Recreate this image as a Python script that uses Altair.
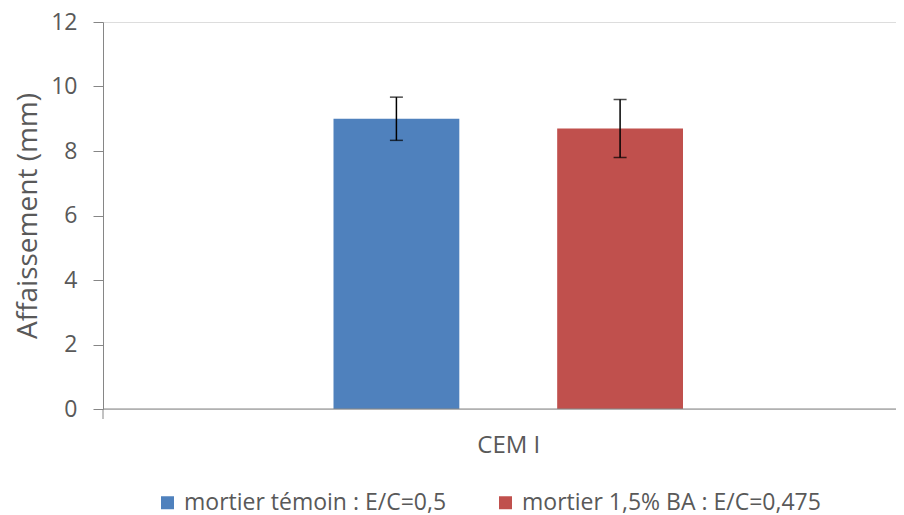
import altair as alt
import pandas as pd

category = "CEM I"
series = ["mortier témoin : E/C=0,5", "mortier 1,5% BA : E/C=0,475"]
values = [9.0, 8.7]
errors = [0.67, 0.9]
colors = ["#4F81BD", "#C0504D"]
y_ticks = [0, 2, 4, 6, 8, 10, 12]

df = pd.DataFrame({"series": series, "value": values, "err": errors})
df["low"] = df["value"] - df["err"]
df["high"] = df["value"] + df["err"]

W, H = 793, 387
FONT = "Open Sans"
GREY = "#595959"
AXIS = "#868686"

xscale = alt.Scale(domain=series, range=[230.5, 580], paddingInner=0.4375, paddingOuter=0)
yscale = alt.Scale(domain=[0, 12], nice=False)

base = alt.Chart(df)

bars = base.mark_bar().encode(
    x=alt.X("series:N", scale=xscale,
            axis=alt.Axis(labels=False, ticks=False, domain=False, title=category,
                          titleFontSize=24, titleFont=FONT, titleFontWeight="normal",
                          titleColor=GREY, titlePadding=24)),
    y=alt.Y("value:Q", scale=yscale,
            axis=alt.Axis(values=y_ticks, grid=False, title="Affaissement (mm)",
                          domainColor=AXIS, tickColor=AXIS, tickSize=10,
                          labelFont=FONT, labelFontSize=23, labelColor=GREY, labelPadding=16,
                          titleFont=FONT, titleFontSize=28, titleFontWeight="normal",
                          titleColor=GREY, titlePadding=8)),
    color=alt.Color("series:N", scale=alt.Scale(domain=series, range=colors),
                    legend=alt.Legend(orient="none", legendX=53, legendY=469,
                                      direction="horizontal", title=None,
                                      symbolType="square", symbolSize=169, symbolStrokeWidth=0,
                                      labelFont=FONT, labelFontSize=23, labelColor=GREY,
                                      labelOffset=5, columnPadding=47, labelLimit=0, padding=0)),
)

err_rule = base.mark_rule(color="black", strokeWidth=1.5).encode(
    x=alt.X("series:N", scale=xscale),
    y=alt.Y("low:Q", scale=yscale),
    y2="high:Q",
)
cap_hi = base.mark_tick(color="black", size=13, thickness=1.5).encode(
    x=alt.X("series:N", scale=xscale), y=alt.Y("high:Q", scale=yscale))
cap_lo = base.mark_tick(color="black", size=13, thickness=1.5).encode(
    x=alt.X("series:N", scale=xscale), y=alt.Y("low:Q", scale=yscale))

one = alt.Chart(pd.DataFrame({"k": [0]}))
baseline = one.mark_rule(color=AXIS, strokeWidth=1).encode(
    x=alt.value(0), x2=alt.value(W), y=alt.value(H))
xtick = one.mark_rule(color=AXIS, strokeWidth=1).encode(
    x=alt.value(0), y=alt.value(H), y2=alt.value(H + 10))

chart = alt.layer(bars, baseline, xtick, err_rule, cap_hi, cap_lo).properties(
    width=W, height=H,
    autosize=alt.AutoSizeParams(type="none"),
    padding={"left": 95, "top": 14, "right": 0, "bottom": 107},
).configure_view(stroke=None).configure(background="white")

chart.save("out.html", embed_options={"renderer": "svg", "actions": False})
